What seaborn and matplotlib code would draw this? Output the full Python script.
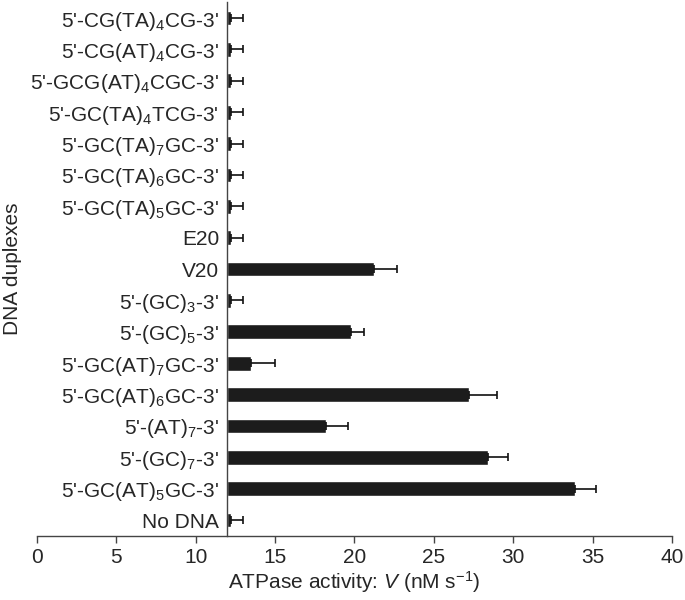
import numpy as np
import matplotlib
matplotlib.use("Agg")
import matplotlib.pyplot as plt
import seaborn as sns

# duplexes listed top to bottom, as in the figure
duplexes = [
    "5'-CG(TA)$_4$CG-3'",
    "5'-CG(AT)$_4$CG-3'",
    "5'-GCG(AT)$_4$CGC-3'",
    "5'-GC(TA)$_4$TCG-3'",
    "5'-GC(TA)$_7$GC-3'",
    "5'-GC(TA)$_6$GC-3'",
    "5'-GC(TA)$_5$GC-3'",
    "E20",
    "V20",
    "5'-(GC)$_3$-3'",
    "5'-(GC)$_5$-3'",
    "5'-GC(AT)$_7$GC-3'",
    "5'-GC(AT)$_6$GC-3'",
    "5'-(AT)$_7$-3'",
    "5'-(GC)$_7$-3'",
    "5'-GC(AT)$_5$GC-3'",
    "No DNA",
]
activity = [12.2, 12.2, 12.2, 12.2, 12.2, 12.2, 12.2, 12.2,
            21.2, 12.2, 19.8, 13.5, 27.2, 18.2, 28.4, 33.9, 12.2]
error = [0.8, 0.8, 0.8, 0.8, 0.8, 0.8, 0.8, 0.8,
         1.5, 0.8, 0.8, 1.5, 1.8, 1.4, 1.3, 1.3, 0.8]
baseline = 12

sns.set_style("white")
plt.rcParams['font.family'] = ['Liberation Sans', 'DejaVu Sans']
plt.rcParams['mathtext.fontset'] = 'custom'
plt.rcParams['mathtext.rm'] = 'Liberation Sans'
plt.rcParams['mathtext.it'] = 'Liberation Sans:italic'

fs = 15

fig, ax = plt.subplots(figsize=(6.85, 6.0), dpi=100)
fig.subplots_adjust(left=0.054, right=0.981, top=0.996, bottom=0.107)

sns.barplot(x=activity, y=duplexes, orient="h", color="#1c1c1c",
            width=0.47, errorbar=None, ax=ax, saturation=1)

# bars grow from the axis at V = 12
for patch in ax.patches:
    w = patch.get_width()
    patch.set_x(baseline)
    patch.set_width(w - baseline)

pos = np.arange(len(duplexes))
ax.errorbar(activity, pos, xerr=[np.zeros(len(error)), error], fmt="none",
            ecolor="#111111", elinewidth=1.2, capsize=3, capthick=1.2)

ax.set_xlim(0, 40)
ax.set_ylim(len(duplexes) - 0.5, -0.5)
ax.set_xticks(range(0, 41, 5))
ax.spines['left'].set_position(('data', baseline))
for s in ['top', 'right']:
    ax.spines[s].set_visible(False)
for s in ['left', 'bottom']:
    ax.spines[s].set_color('#444444')
    ax.spines[s].set_linewidth(1.0)

ax.tick_params(axis='y', length=0, pad=6, labelsize=fs)
ax.tick_params(axis='x', length=5, width=1, color='#444444', labelsize=fs, pad=4, direction='out')
ax.xaxis.set_ticks_position('bottom')

ax.set_xlabel("ATPase activity: $V$ (nM s$^{-1}$)", fontsize=fs, labelpad=1)
ax.set_ylabel("DNA duplexes", fontsize=fs, labelpad=6)

fig.savefig("out.png", dpi=100)
